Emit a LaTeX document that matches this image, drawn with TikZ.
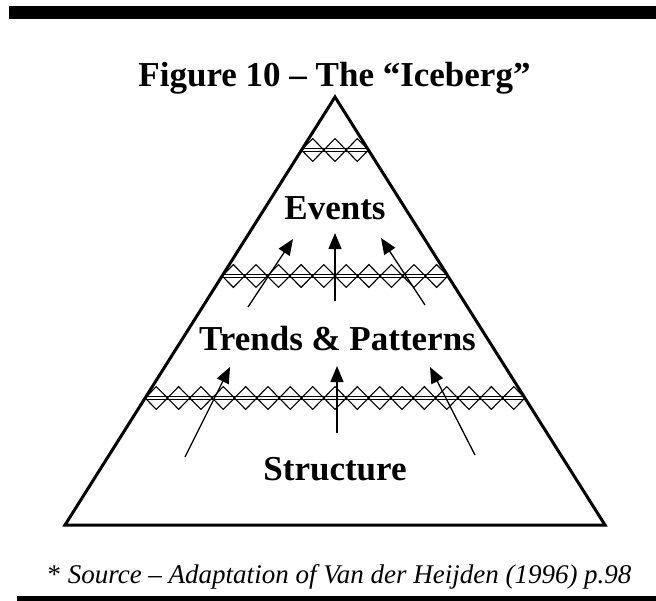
\documentclass[tikz,border=0pt]{standalone}
\usepackage{fontspec}
\setmainfont{Liberation Serif}
\usetikzlibrary{arrows.meta}

% one row of ice: a chain of diamonds with a double line through it
\newcommand{\iceband}[2]{% #1 = centre y, #2 = number of diamonds
  \pgfmathsetmacro{\halfw}{0.630841*(#1-97)}
  \pgfmathsetmacro{\xl}{335-\halfw}
  \pgfmathsetmacro{\xr}{335+\halfw}
  \pgfmathsetmacro{\dw}{(\xr-\xl)/#2}
  \foreach \i in {1,...,#2}{
    \pgfmathsetmacro{\xa}{\xl+(\i-1)*\dw}
    \draw[bandline] (\xa,#1) -- ++(\dw/2,-11.4) -- ++(\dw/2,11.4)
      -- ++(-\dw/2,11.4) -- cycle;
  }
  \draw[bandline] (\xl,#1-1.6) -- (\xr,#1-1.6) (\xl,#1+1.6) -- (\xr,#1+1.6);
}

\tikzset{
  bandline/.style={line width=1.1pt, line join=miter},
  edge/.style={line width=3pt, line join=miter},
  rise/.style={line width=1.3pt, -{Triangle[length=16pt,width=13pt]}},
  label/.style={font=\fontsize{35}{40}\selectfont\bfseries, anchor=base, inner sep=0pt},
}

\begin{document}
\begin{tikzpicture}[x=1pt,y=-1pt]
  \useasboundingbox (0,0) rectangle (656,600);

  % rules above and below
  \fill (9,6) rectangle (656,19);
  \fill (17,596) rectangle (656,602);

  % title
  \node[label] (title) at (334.5,86) {Figure 10 – The “Iceberg”};

  % ice layers
  \iceband{150}{3}
  \iceband{276}{10}
  \iceband{398}{17}

  % the iceberg outline
  \coordinate (apex) at (335,97);
  \coordinate (bl) at (65,525);
  \coordinate (br) at (605,525);
  \draw[edge] (apex) -- (bl) -- (br) -- cycle;

  % level names
  \node[label] (events) at (335,219) {Events};
  \node[label] (trends) at (337.5,350) {Trends \& Patterns};
  \node[label] (structure) at (335,480) {Structure};

  % arrows from trends to events
  \coordinate (ta1) at (248,307);  \coordinate (ha1) at (293,239);
  \coordinate (ta2) at (335,301);  \coordinate (ha2) at (335,233);
  \coordinate (ta3) at (425,305);  \coordinate (ha3) at (381,238);
  \draw[rise] (ta1) -- (ha1);
  \draw[rise] (ta2) -- (ha2);
  \draw[rise] (ta3) -- (ha3);

  % arrows from structure to trends
  \coordinate (tb1) at (185,457);  \coordinate (hb1) at (230,367);
  \coordinate (tb2) at (337,433);  \coordinate (hb2) at (337,366);
  \coordinate (tb3) at (475,455);  \coordinate (hb3) at (430,367);
  \draw[rise] (tb1) -- (hb1);
  \draw[rise] (tb2) -- (hb2);
  \draw[rise] (tb3) -- (hb3);

  % source line
  \node[font=\fontsize{27}{32}\selectfont, anchor=base, inner sep=0pt] (source)
    at (339.5,583) {* \textit{Source – Adaptation of Van der Heijden (1996) p.98}};
\end{tikzpicture}
\end{document}
